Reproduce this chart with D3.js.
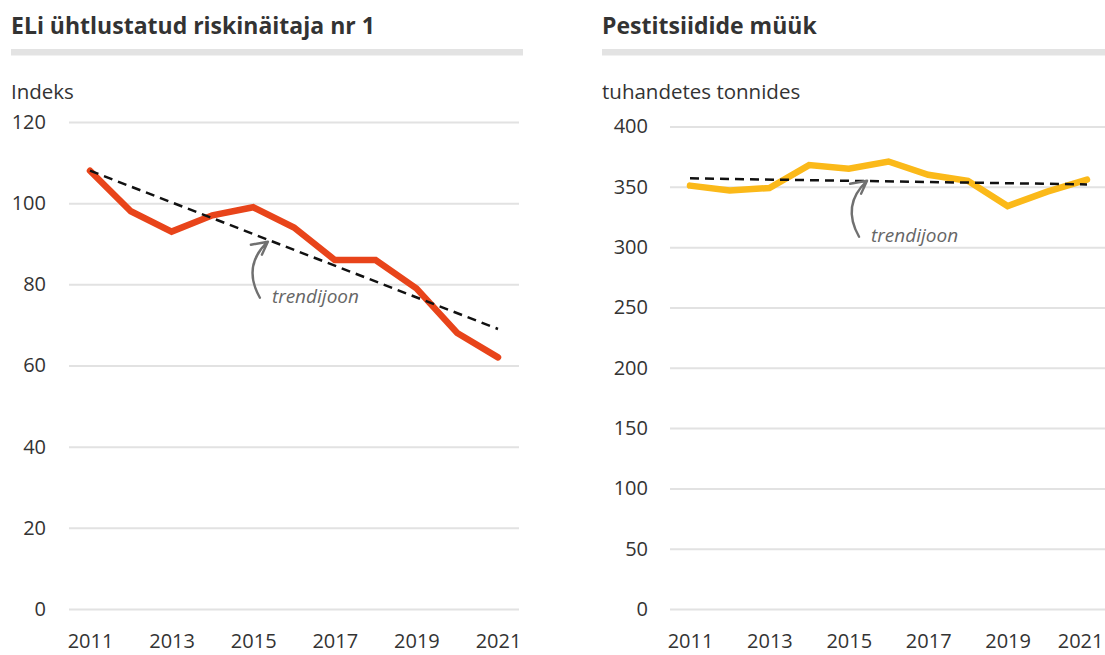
<!DOCTYPE html>
<html>
<head>
<meta charset="utf-8">
<script src="https://cdn.jsdelivr.net/npm/d3@7"></script>
<style>
    body { margin: 0; background: #fff; }
    svg { display: block; font-family: "Open Sans", "Noto Sans", sans-serif; }
    .title { font-weight: 700; font-size: 23px; fill: #333; }
    .unit { font-size: 20.5px; fill: #333; }
    .axis text { font-size: 20px; fill: #333; font-family: "Open Sans", "Noto Sans", sans-serif; }
    .axis .domain { display: none; }
    .y-axis line { stroke: #e2e2e2; stroke-width: 2; }
    .note { font-size: 19px; font-style: italic; fill: #666; }
</style>
</head>
<body>
<div id="chart"></div>
<script>

// data
const years = [2011, 2012, 2013, 2014, 2015, 2016, 2017, 2018, 2019, 2020, 2021];
const yearTicks = [2011, 2013, 2015, 2017, 2019, 2021];

const riskIndex = [108, 98, 93, 97, 99, 94, 86, 86, 79, 68, 62];
const riskTrend = [108, 69];           // trend line at 2011 and 2021
const riskTicks = [0, 20, 40, 60, 80, 100, 120];

const pesticideSales = [351, 347, 349, 368, 365, 371, 360, 355, 334, 346, 356];
const salesTrend = [357, 352];         // trend line at 2011 and 2021
const salesTicks = [0, 50, 100, 150, 200, 250, 300, 350, 400];

const svg = d3.select("#chart").append("svg")
    .attr("width", 1105)
    .attr("height", 655);

function drawPanel(p) {
    let g = svg.append("g");

    // title + grey bar under it
    g.append("text")
        .attr("class", "title")
        .attr("x", p.left)
        .attr("y", 34)
        .text(p.title);

    g.append("rect")
        .attr("x", p.left)
        .attr("y", 49)
        .attr("width", p.barRight - p.left)
        .attr("height", 6.5)
        .attr("fill", "#e3e3e3");

    g.append("text")
        .attr("class", "unit")
        .attr("x", p.left)
        .attr("y", 99)
        .text(p.unit);

    let x = d3.scaleLinear()
        .domain([years[0], years[years.length - 1]])
        .range(p.xRange);

    let y = d3.scaleLinear()
        .domain(p.yDomain)
        .range([609, p.yTop]);

    // y axis with gridlines
    g.append("g")
        .attr("class", "y-axis axis")
        .attr("transform", `translate(${p.gridRight},0)`)
        .call(d3.axisLeft(y)
            .tickValues(p.ticks)
            .tickSize(p.gridRight - p.gridLeft)
            .tickPadding(p.gridLeft - p.labelRight));

    let xAxisGroup = g.append("g")
        .attr("class", "x-axis axis")
        .attr("transform", "translate(0,609)")
        .call(d3.axisBottom(x)
            .tickValues(yearTicks)
            .tickFormat(d3.format("d"))
            .tickSize(0)
            .tickPadding(25));

    // keep the last year label inside the picture
    xAxisGroup.selectAll("text").each(function(d) {
        let box = this.getBBox();
        let right = x(d) + box.x + box.width;
        if (right > 1103) d3.select(this).attr("dx", 1103 - right);
    });

    // data line
    let line = d3.line()
        .x((d, i) => x(years[i]))
        .y(d => y(d));

    g.append("path")
        .datum(p.values)
        .attr("d", line)
        .attr("fill", "none")
        .attr("stroke", p.color)
        .attr("stroke-width", 6.5)
        .attr("stroke-linejoin", "miter")
        .attr("stroke-linecap", "round");

    // dashed trend line
    g.append("line")
        .attr("x1", x(years[0]))
        .attr("y1", y(p.trend[0]))
        .attr("x2", x(years[years.length - 1]))
        .attr("y2", y(p.trend[1]))
        .attr("stroke", "#111")
        .attr("stroke-width", 2.5)
        .attr("stroke-dasharray", "9,6");

    // annotation arrow pointing to the trend line
    let hx = x(p.noteAt[0]), hy = y(p.noteAt[1]);
    let note = g.append("g").attr("transform", `translate(${hx},${hy})`);

    note.append("path")
        .attr("d", "M-8,56 Q-26,24 0,0 M-17,3 L0,0 L-6,13")
        .attr("fill", "none")
        .attr("stroke", "#707070")
        .attr("stroke-width", 2.4)
        .attr("stroke-linecap", "round")
        .attr("stroke-linejoin", "round");

    note.append("text")
        .attr("class", "note")
        .attr("x", 4)
        .attr("y", 61)
        .text("trendijoon");
}

drawPanel({
    title: "ELi ühtlustatud riskinäitaja nr 1",
    unit: "Indeks",
    values: riskIndex,
    trend: riskTrend,
    ticks: riskTicks,
    yDomain: [0, 120],
    color: "#e8441a",
    noteAt: [2015.36, 90.5],
    left: 11, barRight: 523,
    gridLeft: 69, gridRight: 519, labelRight: 46,
    xRange: [90, 498], yTop: 122
});

drawPanel({
    title: "Pestitsiidide müük",
    unit: "tuhandetes tonnides",
    values: pesticideSales,
    trend: salesTrend,
    ticks: salesTicks,
    yDomain: [0, 400],
    color: "#fbb919",
    noteAt: [2015.46, 355],
    left: 602, barRight: 1105,
    gridLeft: 670, gridRight: 1105, labelRight: 648,
    xRange: [690, 1087], yTop: 126.5
});

</script>
</body>
</html>
